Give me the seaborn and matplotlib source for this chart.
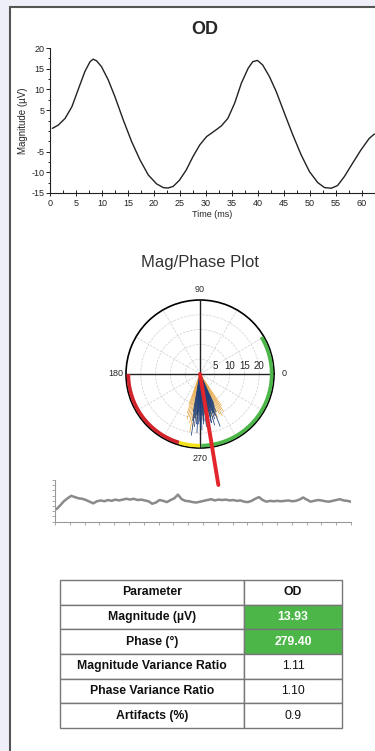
'''
OD waveform, mag/phase polar plot, noise trace and summary table
'''

import numpy as np
import seaborn as sns
import matplotlib.pyplot as plt
from matplotlib.patches import Rectangle
from matplotlib.transforms import offset_copy

# waveform
wave_t = [0.45, 1.6, 2.9, 4.2, 5.4, 6.7, 7.7, 8.3, 8.96, 9.9, 11.2, 12.5, 14.1, 15.7,
          17.3, 18.9, 20.5, 21.8, 22.7, 23.7, 24.9, 26.2, 27.5, 28.8, 30.1, 31.0, 32.0,
          32.95, 34.2, 35.5, 36.8, 38.1, 39.0, 39.9, 40.9, 42.2, 43.5, 45.1, 46.7, 48.3,
          49.9, 51.5, 52.8, 54.1, 55.3, 56.6, 58.2, 59.8, 61.4, 62.4]
wave_uv = [0.6, 1.4, 3.0, 5.8, 9.9, 14.3, 16.7, 17.3, 16.9, 15.5, 12.3, 8.2, 2.6, -2.6,
           -7.0, -10.65, -12.8, -13.7, -13.8, -13.4, -11.9, -9.45, -6.2, -3.4, -1.4, -0.6, 0.3,
           1.2, 3.0, 6.65, 11.5, 15.1, 16.7, 17.0, 15.9, 13.1, 9.5, 4.2, -1.0, -5.8,
           -9.85, -12.5, -13.7, -13.85, -13.2, -11.05, -7.8, -4.6, -1.8, -0.75]

# individual sweeps (phase deg, magnitude)
blue_deg = [260, 261, 262, 263, 264, 265, 266, 267, 268, 269, 270, 271, 272, 273, 274, 275,
            276, 277, 278, 279, 280, 281, 282, 283, 284, 285, 286, 287, 288, 289, 290, 291,
            292, 293, 294, 295, 266.5, 268.5, 271.5, 274.5, 277.5, 280.5, 283.5, 286.5, 289.5]
blue_mag = [13, 16, 21, 15, 18, 14, 17, 20, 13, 16, 18, 15, 19, 14, 17, 16, 13, 18, 15, 17,
            14, 16, 13, 17, 15, 14, 18, 13, 16, 14, 15, 19, 13, 14, 12, 11, 15, 17, 14, 16,
            13, 15, 17, 12, 14]
orange_deg = [250, 252, 254, 256, 258, 260, 262, 264, 266, 268, 270, 272, 274, 276, 278, 280,
              282, 284, 286, 288, 290, 292, 294, 296, 298, 300, 302, 304]
orange_mag = [11, 14, 16, 15, 17, 20, 18, 15, 16, 14, 15, 13, 16, 14, 15, 13, 14, 15, 16, 14,
              15, 16, 14, 15, 16, 14, 15, 13]
mean_phase = 279.4
mean_len = 38

# coloured zones on the rim (start deg, end deg, colour)
zones = [(180, 253, '#d2232a'), (253, 270, '#f2e21c'), (271, 391, '#4cb648')]
r_ticks = [5, 10, 15, 20]

# noise trace
trace = [3.0, 3.9, 4.9, 5.6, 6.2, 5.9, 5.6, 5.5, 5.2, 4.8, 4.4, 4.9, 5.1, 4.9, 5.2, 5.0,
         5.3, 5.1, 5.3, 5.5, 5.3, 5.5, 5.2, 5.3, 5.1, 4.9, 4.3, 4.6, 5.2, 5.0, 4.7, 5.2,
         5.6, 6.5, 5.4, 5.0, 4.9, 4.7, 4.6, 4.8, 5.0, 5.2, 5.4, 5.1, 5.3, 5.2, 5.3, 5.1,
         5.2, 5.0, 5.1, 4.8, 4.7, 5.0, 5.5, 5.9, 5.2, 4.8, 5.0, 4.9, 5.0, 4.9, 5.0, 5.1,
         4.9, 5.0, 5.3, 5.8, 5.3, 4.8, 5.0, 5.2, 5.1, 4.9, 4.8, 5.0, 5.2, 5.4, 5.1, 5.0, 4.8]

# table
params = ['Magnitude (µV)', 'Phase (°)', 'Magnitude Variance Ratio',
          'Phase Variance Ratio', 'Artifacts (%)']
od_values = ['13.93', '279.40', '1.11', '1.10', '0.9']
highlight = [True, True, False, False, False]

GREEN = '#4cb648'

sns.set_style('ticks')
plt.rcParams['font.family'] = ['Liberation Sans', 'DejaVu Sans']
plt.rcParams['axes.unicode_minus'] = False

W, H = 375, 751
fig = plt.figure(figsize=(W / 100, H / 100), dpi=100, facecolor='#eeeff8')
fig.add_artist(Rectangle((10 / W, -0.05), 1.0, 1 - 7 / H + 0.05, transform=fig.transFigure,
                         facecolor='white', edgecolor='#555555', lw=1.5, zorder=0))

fig.text(205 / W, 1 - 30 / H, 'OD', ha='center', va='center', fontsize=13, weight='bold')
fig.text(200 / W, 1 - 262 / H, 'Mag/Phase Plot', ha='center', va='center',
         fontsize=12, color='#333333')

# --- waveform
ax = fig.add_axes([50 / W, 1 - 193 / H, 1 - 50 / W, 145 / H])
ax.patch.set_alpha(0)
sns.lineplot(x=wave_t, y=wave_uv, ax=ax, color='#222222', lw=1.0)
ax.set_xlim(0, 62.5)
ax.set_ylim(-15, 20)
ax.set_xticks(np.arange(0, 61, 5))
ax.set_xticks(np.arange(0, 62.5, 2.5), minor=True)
yt = [-15, -10, -5, 5, 10, 15, 20]
ax.set_yticks(yt)
ax.set_yticklabels([str(v) for v in yt])
ax.set_yticks(np.arange(-15, 20.1, 2.5), minor=True)
ax.tick_params(axis='both', which='both', labelsize=6.5, colors='#222222', width=0.7)
ax.tick_params(axis='x', which='major', direction='inout', length=4, pad=2)
ax.tick_params(axis='x', which='minor', direction='in', length=2)
ax.tick_params(axis='y', which='major', direction='out', length=3, pad=1)
ax.tick_params(axis='y', which='minor', direction='out', length=1.5)
ax.set_xlabel('Time (ms)', fontsize=6.5, labelpad=2)
ax.set_ylabel('Magnitude (µV)', fontsize=7)
ax.yaxis.set_label_coords(-0.068, 0.5)
sns.despine(ax=ax)
for s in ['left', 'bottom']:
    ax.spines[s].set_color('#222222')
    ax.spines[s].set_linewidth(0.8)

# --- polar
R = 74
ax2 = fig.add_axes([(200 - R) / W, 1 - (374 + R) / H, 2 * R / W, 2 * R / H], projection='polar')
ax2.set_ylim(0, 25)
tg = np.arange(0, 360, 30)
ax2.set_thetagrids(tg, labels=[str(a) if a % 90 == 0 else '' for a in tg], fontsize=6.5)
ax2.set_rgrids([5, 10, 15, 20, 25], labels=['', '', '', '', ''])
ax2.tick_params(axis='x', pad=-3)
ax2.grid(True, color='#d0d0d0', linestyle='--', lw=0.5)
ax2.spines['polar'].set_color('black')
ax2.spines['polar'].set_linewidth(1.2)
lift = offset_copy(ax2.transData, fig=fig, x=0, y=2, units='points')
for r in r_ticks:
    ax2.text(0, r, str(r), transform=lift, ha='center', va='bottom', fontsize=7,
             color='#222222')
ax2.vlines(np.deg2rad([0, 90, 180, 270]), 0, 25, colors='#222222', lw=1.0, zorder=3)
ax2.vlines(np.deg2rad(orange_deg), 0, orange_mag, colors='#e8a33a', lw=0.5, zorder=3)
ax2.vlines(np.deg2rad(blue_deg), 0, blue_mag, colors='#1d3f7a', lw=0.55, zorder=4)
for a0, a1, c in zones:
    th = np.deg2rad(np.linspace(a0, a1, 100))
    ax2.plot(th, np.full_like(th, 24.2), color=c, lw=2.6, solid_capstyle='butt', zorder=4)
ax2.plot(np.deg2rad([mean_phase, mean_phase]), [0, mean_len], color='#e3262b', lw=2.8,
         clip_on=False, zorder=6)

# --- noise trace
ax3 = fig.add_axes([55 / W, 1 - 521.7 / H, 296 / W, 41.7 / H])
ax3.patch.set_alpha(0)
sns.lineplot(x=np.linspace(0.1, 20, len(trace)), y=trace, ax=ax3, color='#8a8a8a', lw=1.8)
ax3.set_xlim(0, 20)
ax3.set_ylim(0, 10)
ax3.set_xticks(np.arange(0, 21, 1))
ax3.set_yticks(np.arange(0, 10.1, 1.25))
ax3.set_xticklabels([])
ax3.set_yticklabels([])
ax3.tick_params(axis='both', direction='out', length=2.5, width=0.6, colors='#999999')
sns.despine(ax=ax3)
for s in ['left', 'bottom']:
    ax3.spines[s].set_color('#999999')
    ax3.spines[s].set_linewidth(0.8)

# --- table
ax4 = fig.add_axes([60 / W, 1 - 728 / H, 282 / W, 148 / H])
ax4.axis('off')
cells = [['Parameter', 'OD']] + [[p, v] for p, v in zip(params, od_values)]
colours = [['white', 'white']] + [['white', GREEN if h else 'white'] for h in highlight]
tab = ax4.table(cellText=cells, cellColours=colours, colWidths=[0.653, 0.347],
                cellLoc='center', bbox=[0, 0, 1, 1])
tab.auto_set_font_size(False)
for (r, c), cell in tab.get_celld().items():
    cell.set_edgecolor('#777777')
    cell.set_linewidth(1.0)
    txt = cell.get_text()
    txt.set_fontsize(8.8)
    txt.set_color('#111111')
    if r == 0 or c == 0:
        txt.set_weight('bold')
    if r > 0 and c == 1 and highlight[r - 1]:
        txt.set_color('white')
        txt.set_weight('bold')

fig.savefig('out.png', dpi=100, facecolor=fig.get_facecolor())
